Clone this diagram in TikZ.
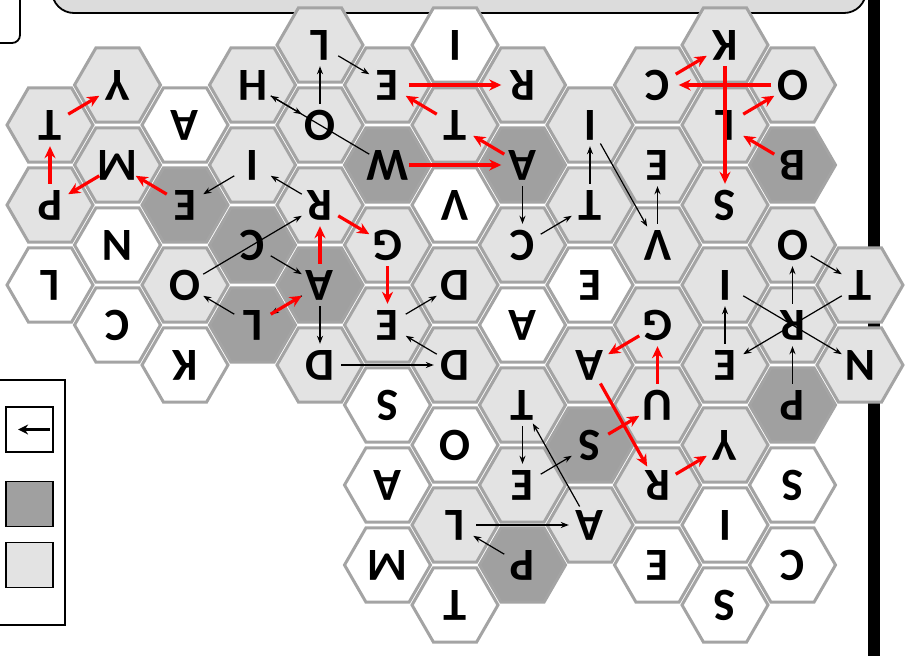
\documentclass[tikz,border=0pt]{standalone}
\usepackage{fontspec}
\setmainfont{Carlito}
\usepackage{tikz}
\usetikzlibrary{arrows.meta}
\definecolor{hexlite}{HTML}{E3E3E3}
\definecolor{hexdark}{HTML}{A0A0A0}
\definecolor{rim}{HTML}{A4A4A4}
\definecolor{lid}{HTML}{DCDCDC}

\begin{document}
\begin{tikzpicture}[x=1pt, y=-1pt,
  cell/.style={draw=rim, line width=3pt, line join=miter},
  letter/.style={circle, minimum size=42pt, inner sep=0pt, rotate=180,
                 font=\fontsize{46}{46}\selectfont\bfseries},
  blk/.style={-{Stealth[length=8pt, width=6pt]}, line width=1.2pt},
  hot/.style={-{Stealth[length=12pt, width=11pt]}, line width=3.2pt, red},
  key/.style={draw, line width=1.8pt, minimum width=47pt, minimum height=45pt, inner sep=0pt}]
\useasboundingbox (0,0) rectangle (908,656);

% frame pieces
\draw[line width=1.8pt, fill=lid, rounded corners=22pt] (52,-40) rectangle (866,13);
\draw[line width=1.8pt, fill=white, rounded corners=8pt] (-30,-30) rectangle (20,43);
\fill (868,-5) rectangle (880,662);

% hex grid
\foreach \c/\r/\t/\s in {
  0/1/T/hexlite, 0/2/P/hexlite, 0/3/L/white,
  1/0/Y/hexlite, 1/1/M/hexlite, 1/2/N/white, 1/3/C/white,
  2/1/A/white, 2/2/E/hexdark, 2/3/O/hexlite, 2/4/K/white,
  3/0/H/hexlite, 3/1/I/hexlite, 3/2/C/hexdark, 3/3/L/hexdark,
  4/0/L/hexlite, 4/1/O/hexlite, 4/2/R/hexlite, 4/3/A/hexdark, 4/4/D/hexlite,
  5/0/E/hexlite, 5/1/W/hexdark, 5/2/G/hexlite, 5/3/E/hexlite, 5/4/S/white, 5/5/A/white, 5/6/M/white,
  6/0/I/white, 6/1/T/hexlite, 6/2/V/white, 6/3/D/hexlite, 6/4/D/hexlite, 6/5/O/white, 6/6/L/hexlite, 6/7/T/white,
  7/0/R/hexlite, 7/1/A/hexdark, 7/2/C/hexlite, 7/3/A/white, 7/4/T/hexlite, 7/5/E/hexlite, 7/6/P/hexdark,
  8/1/I/hexlite, 8/2/T/hexlite, 8/3/E/white, 8/4/A/hexlite, 8/5/S/hexdark, 8/6/A/hexlite,
  9/0/C/hexlite, 9/1/E/hexlite, 9/2/V/hexlite, 9/3/G/hexlite, 9/4/U/hexlite, 9/5/R/hexlite, 9/6/E/white,
  10/0/K/hexlite, 10/1/L/hexlite, 10/2/S/hexlite, 10/3/I/hexlite, 10/4/E/hexlite, 10/5/Y/hexlite, 10/6/I/white, 10/7/S/white,
  11/0/O/hexlite, 11/1/B/hexdark, 11/2/O/hexlite, 11/3/R/hexlite, 11/4/P/hexdark, 11/5/S/white, 11/6/C/white,
  12/3/T/hexlite, 12/4/N/hexlite} {
  \pgfmathsetmacro{\xx}{50+67.5*\c}
  \pgfmathsetmacro{\yy}{45+80*\r+40*mod(\c,2)}
  \path[cell, fill=\s] (\xx,\yy) +(0:43) -- +(60:43) -- +(120:43) -- +(180:43)
        -- +(240:43) -- +(300:43) -- cycle;
  \node[letter] (n\c-\r) at (\xx,\yy) {\makebox[0pt]{\t}};
}

% black links
\foreach \a/\b in {n4-0/n5-0, n4-1/n4-0, n3-0/n4-1, n5-1/n3-0, n3-1/n2-2, n4-2/n3-1,
  n2-3/n4-2, n3-2/n4-3, n4-3/n3-3, n3-3/n2-3, n4-3/n4-4, n5-3/n6-3, n6-4/n5-3,
  n4-4/n6-4, n7-1/n7-2, n7-2/n8-2, n8-2/n8-1, n8-1/n9-2, n9-2/n9-1, n7-4/n7-5,
  n7-5/n8-5, n8-6/n7-4, n6-6/n8-6, n7-6/n6-6, n10-4/n10-3, n10-3/n12-4,
  n12-3/n10-4, n11-3/n11-2, n11-2/n12-3, n11-4/n11-3}
  \draw[blk] (\a) -- (\b);

% red links
\foreach \a/\b in {n0-1/n1-0, n0-2/n0-1, n1-1/n0-2, n2-2/n1-1, n3-3/n4-3, n4-3/n4-2,
  n4-2/n5-2, n5-2/n5-3, n5-1/n7-1, n7-1/n6-1, n6-1/n5-0, n5-0/n7-0, n9-0/n10-0,
  n11-0/n9-0, n10-0/n10-2, n10-1/n11-0, n11-1/n10-1, n9-3/n8-4, n9-4/n9-3,
  n8-4/n9-5, n8-5/n9-4, n9-5/n10-5}
  \draw[hot] (\a) -- (\b);

% legend
\draw[line width=1.8pt, fill=white] (-10,380) rectangle (65,625);
\node[key, fill=white] (keyarrow) at (29.5,429.5) {};
\node[key, fill=hexdark] (keydark) at (29.5,504) {};
\node[key, fill=hexlite] (keylite) at (29.5,565) {};
\draw[-{Stealth[length=10pt, width=10pt]}, line width=2.6pt]
  ([xshift=-4pt]keyarrow.east) -- ([xshift=13pt]keyarrow.west);
\end{tikzpicture}
\end{document}
